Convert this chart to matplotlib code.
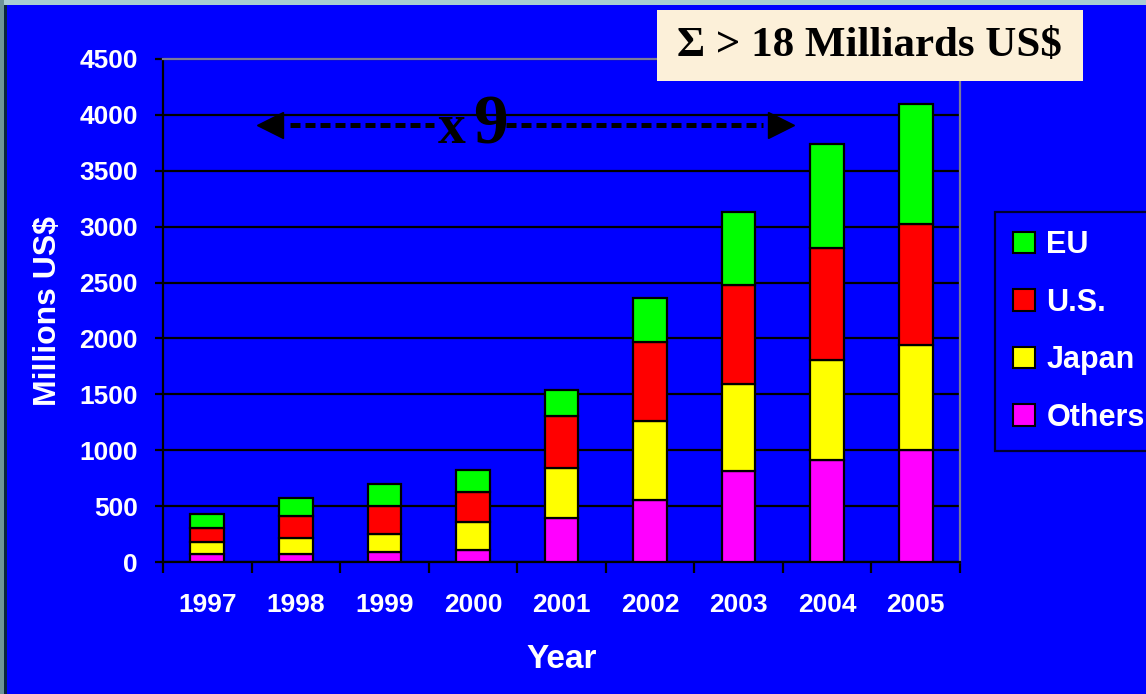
import matplotlib
matplotlib.use('Agg')
import matplotlib.pyplot as plt
from matplotlib.patches import Patch, Rectangle

# Yearly investment by region, millions of US$
years = ['1997', '1998', '1999', '2000', '2001', '2002', '2003', '2004', '2005']
others = [70, 70, 90, 105, 395, 555, 810, 910, 1000]
japan = [110, 145, 160, 250, 445, 710, 785, 895, 945]
us = [125, 195, 250, 270, 470, 700, 880, 1005, 1075]
eu = [125, 160, 200, 200, 230, 395, 660, 930, 1075]

series_names = ['Others', 'Japan', 'U.S.', 'EU']
series_values = [others, japan, us, eu]
series_colors = ['#FF00FF', '#FFFF00', '#FF0000', '#00FF00']

BLUE = '#0000FF'
W, H = 1146, 694

fig = plt.figure(figsize=(W / 100, H / 100), dpi=100, facecolor=BLUE)
ax = fig.add_axes([163 / W, 132 / H, 797 / W, 503 / H])
ax.set_facecolor(BLUE)

# stacked bars
x = list(range(len(years)))
bottom = [0] * len(years)
for name, vals, col in zip(series_names, series_values, series_colors):
    ax.bar(x, vals, width=0.38, bottom=bottom, color=col, edgecolor='black',
           linewidth=1.6, zorder=3, label=name)
    bottom = [b + v for b, v in zip(bottom, vals)]

ax.set_xlim(-0.5, len(years) - 0.5)
ax.set_ylim(0, 4500)
ax.set_yticks(range(0, 4501, 500))
ax.yaxis.grid(True, color='black', linewidth=1.6, zorder=1)
ax.set_axisbelow(True)

for side in ['left', 'bottom']:
    ax.spines[side].set_color('black')
    ax.spines[side].set_linewidth(1.6)
for side in ['top', 'right']:
    ax.spines[side].set_color('#7A7A9A')
    ax.spines[side].set_linewidth(1.6)

lab_font = dict(family='Liberation Sans', weight='bold', color='white')

ax.set_xticks(x)
ax.set_xticklabels(years, fontsize=19, **lab_font)
ax.set_xticks([i - 0.5 for i in range(len(years) + 1)], minor=True)
ax.tick_params(axis='x', which='major', length=0, pad=22)
ax.tick_params(axis='x', which='minor', length=8, width=1.6, color='black',
               direction='out')
ax.tick_params(axis='y', length=6, width=1.6, color='black', pad=12)
for lbl in ax.get_yticklabels():
    lbl.set_fontsize(19)
    lbl.set_fontfamily('Liberation Sans')
    lbl.set_fontweight('bold')
    lbl.set_color('white')

ax.set_xlabel('Year', fontsize=24, labelpad=20, **lab_font)
ax.set_ylabel('Millions US$', fontsize=23, labelpad=12, **lab_font)

# growth arrow "x 9" across the years
serif = dict(family='Liberation Serif', weight='bold', color='black')
ay = 3910
base = 3748
ax.plot([0.93, 2.56], [ay, ay], color='black', lw=3.6,
        linestyle=(0, (2, 1)), zorder=4)
ax.plot([3.37, 6.27], [ay, ay], color='black', lw=3.6,
        linestyle=(0, (2, 1)), zorder=4)
ax.plot([0.71], [ay], marker='<', markersize=19, color='black', zorder=5,
        linestyle='none')
ax.plot([6.48], [ay], marker='>', markersize=19, color='black', zorder=5,
        linestyle='none')
ax.text(2.6, base, 'x', fontsize=40, ha='left', va='baseline', zorder=5,
        **serif)
ax.text(3.0, base, '9', fontsize=50, ha='left', va='baseline', zorder=5,
        **serif)

# legend, partly running off the right edge
handles = [Patch(facecolor=c, edgecolor='black', linewidth=1.5)
           for c in series_colors[::-1]]
leg = fig.legend(handles, series_names[::-1], loc='upper left',
                 bbox_to_anchor=(995 / W, 1 - 212 / H), frameon=True,
                 fancybox=False, borderaxespad=0,
                 handlelength=0.7, handleheight=0.7, handletextpad=0.38,
                 labelspacing=0.9, borderpad=0.6,
                 prop=dict(family='Liberation Sans', weight='bold', size=22))
leg.get_frame().set_facecolor(BLUE)
leg.get_frame().set_edgecolor('black')
leg.get_frame().set_linewidth(1.6)
for t in leg.get_texts():
    t.set_color('white')

# total box
fig.patches.append(Rectangle((657 / W, 1 - 81 / H), 426 / W, 71 / H,
                             transform=fig.transFigure, facecolor='#FCF0D9',
                             edgecolor='none', zorder=5))
fig.text(869 / W, 1 - 46 / H, 'Σ > 18 Milliards US$', fontsize=31,
         ha='center', va='center', zorder=6, **serif)

# slide frame edges
fig.patches.append(Rectangle((0, 1 - 5 / H), 1, 5 / H, transform=fig.transFigure,
                             facecolor='#A9CDD2', edgecolor='none', zorder=7))
fig.patches.append(Rectangle((0, 0), 4 / W, 1, transform=fig.transFigure,
                             facecolor='#6E9498', edgecolor='none', zorder=7))
fig.patches.append(Rectangle((4 / W, 0), 3 / W, 1 - 5 / H, transform=fig.transFigure,
                             facecolor='#0A2540', edgecolor='none', zorder=7))

fig.savefig('out.png', dpi=100, facecolor=BLUE)
